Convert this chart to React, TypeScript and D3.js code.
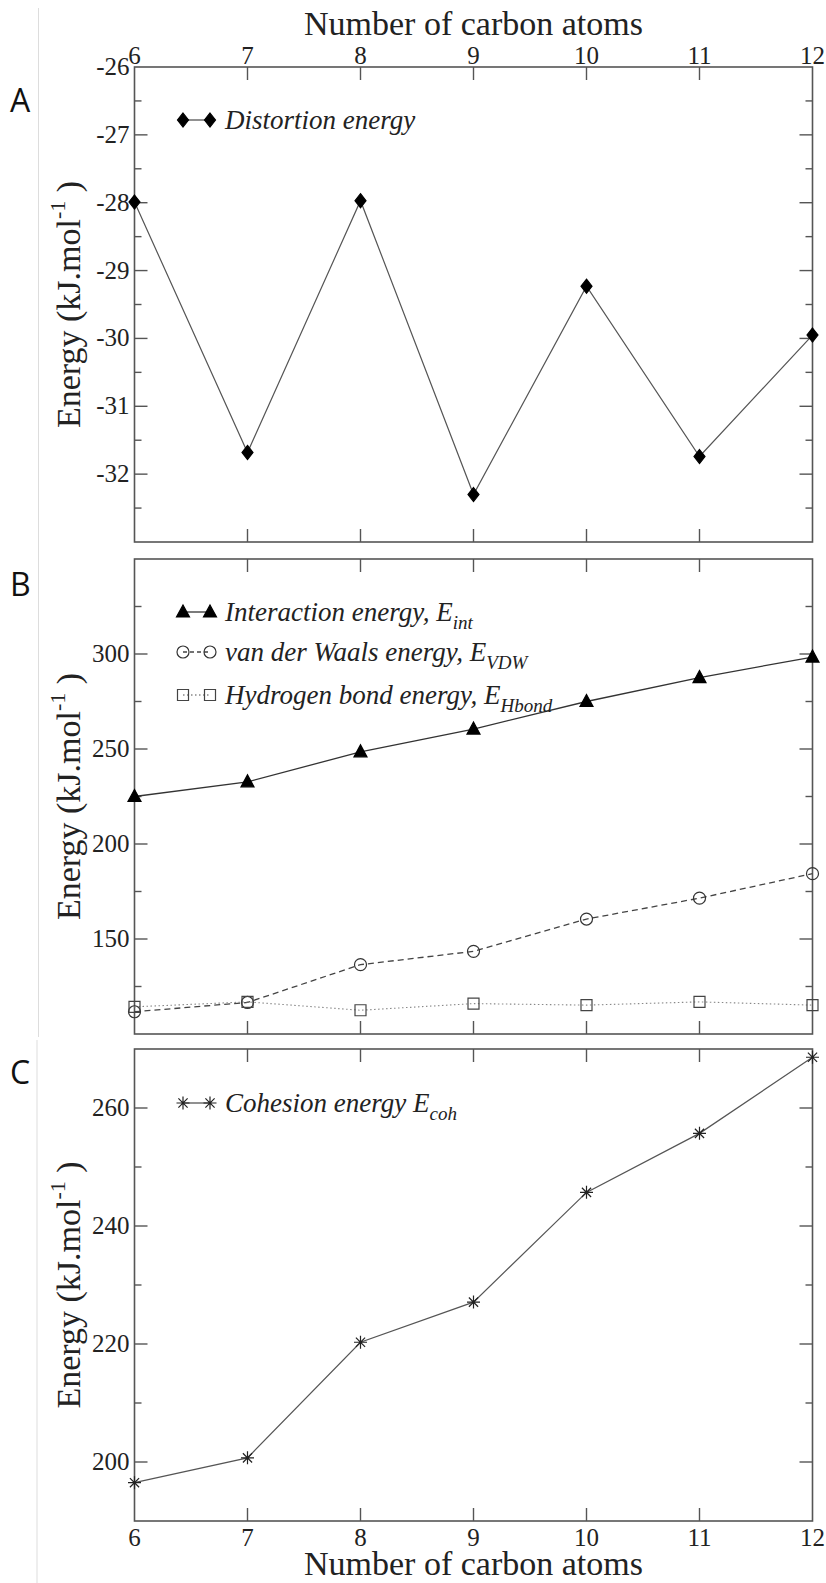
import { useEffect, useRef } from "react";
import * as d3 from "d3";

const WIDTH = 826;
const HEIGHT = 1583;

// x positions of the plot frame (shared by all three panels)
const X_LEFT = 134.5;
const X_RIGHT = 812.5;

const carbonAtoms = [6, 7, 8, 9, 10, 11, 12];

// panel A
const distortionEnergy = [-27.99, -31.68, -27.97, -32.3, -29.23, -31.74, -29.95];
const distortionTicks = [-32, -31, -30, -29, -28, -27, -26];

// panel B
const interactionEnergy = [225.0, 232.7, 248.5, 260.5, 275.0, 287.6, 298.4];
const vdwEnergy = [111.7, 116.6, 136.5, 143.5, 160.5, 171.5, 184.4];
const hbondEnergy = [114.3, 116.9, 112.5, 116.0, 115.2, 116.9, 115.2];
const energyTicksB = [150, 200, 250, 300];

// panel C
const cohesionEnergy = [196.5, 200.7, 220.3, 227.1, 245.7, 255.7, 268.6];
const energyTicksC = [200, 220, 240, 260];

const SERIF = "'Liberation Serif', 'Times New Roman', serif";
const SANS = "'Open Sans', 'Noto Sans', sans-serif";
const TEXT = "#222";
const FRAME = "#555";

type Panel = {
  letter: string;
  top: number;
  bottom: number;
  domain: [number, number];
  major: number;
  minor: number;
  labels: number[];
  letterY: number;
};

const panels: Panel[] = [
  { letter: "A", top: 67, bottom: 542, domain: [-33, -26], major: 1, minor: 0.5, labels: distortionTicks, letterY: 112 },
  { letter: "B", top: 559, bottom: 1034, domain: [100, 350], major: 50, minor: 25, labels: energyTicksB, letterY: 596 },
  { letter: "C", top: 1049, bottom: 1521, domain: [190, 270], major: 20, minor: 10, labels: energyTicksC, letterY: 1084 },
];

// marker shapes, centred on 0,0
const diamondPath = "M0,-7L5.5,0L0,7L-5.5,0Z";
const trianglePath = "M0,-7L6.5,5L-6.5,5Z";
const squarePath = "M-5.5,-5.5H5.5V5.5H-5.5Z";
const starPath = "M-6.5,0H6.5M0,-6.5V6.5M-4.6,-4.6L4.6,4.6M-4.6,4.6L4.6,-4.6";

function App() {
  const svgRef = useRef<SVGSVGElement>(null);

  useEffect(() => {
    const svg = d3.select(svgRef.current);
    svg.selectAll("*").remove();

    const xScale = d3.scaleLinear().domain([6, 12]).range([X_LEFT, X_RIGHT]);

    // faint crop line at the left of the composite figure
    svg.append("line").attr("x1", 38.5).attr("x2", 38.5).attr("y1", 8).attr("y2", 1037)
      .attr("stroke", "#ddd").attr("stroke-width", 1);
    svg.append("line").attr("x1", 37).attr("x2", 37).attr("y1", 1040).attr("y2", HEIGHT)
      .attr("stroke", "#ddd").attr("stroke-width", 1);

    const yScales = panels.map((p) =>
      d3.scaleLinear().domain(p.domain).range([p.bottom, p.top])
    );

    panels.forEach((p, i) => {
      const y = yScales[i];
      const g = svg.append("g");

      // frame
      g.append("rect")
        .attr("x", X_LEFT).attr("y", p.top)
        .attr("width", X_RIGHT - X_LEFT).attr("height", p.bottom - p.top)
        .attr("fill", "none").attr("stroke", FRAME).attr("stroke-width", 1.6);

      // x ticks, inward on top and bottom
      carbonAtoms.slice(1, -1).forEach((c) => {
        const x = xScale(c);
        g.append("line").attr("x1", x).attr("x2", x).attr("y1", p.top).attr("y2", p.top + 13)
          .attr("stroke", FRAME).attr("stroke-width", 1.4);
        g.append("line").attr("x1", x).attr("x2", x).attr("y1", p.bottom).attr("y2", p.bottom - 13)
          .attr("stroke", FRAME).attr("stroke-width", 1.4);
      });

      // y ticks, inward on left and right
      const [lo, hi] = p.domain;
      const steps = Math.round((hi - lo) / p.minor);
      for (let k = 1; k < steps; k++) {
        const v = lo + k * p.minor;
        const isMajor = Math.abs(v / p.major - Math.round(v / p.major)) < 1e-6;
        const len = isMajor ? 13 : 7;
        g.append("line").attr("x1", X_LEFT).attr("x2", X_LEFT + len).attr("y1", y(v)).attr("y2", y(v))
          .attr("stroke", FRAME).attr("stroke-width", 1.4);
        g.append("line").attr("x1", X_RIGHT).attr("x2", X_RIGHT - len).attr("y1", y(v)).attr("y2", y(v))
          .attr("stroke", FRAME).attr("stroke-width", 1.4);
      }

      // y tick labels
      g.selectAll("text.ytick")
        .data(p.labels)
        .join("text")
        .attr("class", "ytick")
        .attr("x", X_LEFT - 5)
        .attr("y", (d) => y(d) + 8)
        .attr("text-anchor", "end")
        .style("font-family", SERIF)
        .style("font-size", "25px")
        .attr("fill", TEXT)
        .text((d) => String(d));

      // y axis title
      const cy = (p.top + p.bottom) / 2;
      const title = g.append("text")
        .attr("transform", `translate(80,${cy}) rotate(-90)`)
        .attr("text-anchor", "middle")
        .style("font-family", SERIF)
        .style("font-size", "34px")
        .attr("fill", TEXT);
      title.append("tspan").text("Energy (kJ.mol");
      title.append("tspan").attr("dy", -15).style("font-size", "22px").text("-1");
      title.append("tspan").attr("dy", 15).text(" )");

      // panel letter
      g.append("text")
        .attr("x", 10).attr("y", p.letterY)
        .style("font-family", SANS)
        .style("font-size", "32px")
        .attr("fill", "#111")
        .text(p.letter);
    });

    // x tick labels: top of A and bottom of C
    const xLabels = svg.append("g");
    carbonAtoms.forEach((c) => {
      xLabels.append("text").attr("x", xScale(c)).attr("y", 64)
        .attr("text-anchor", "middle").style("font-family", SERIF).style("font-size", "25px")
        .attr("fill", TEXT).text(String(c));
      xLabels.append("text").attr("x", xScale(c)).attr("y", 1546)
        .attr("text-anchor", "middle").style("font-family", SERIF).style("font-size", "25px")
        .attr("fill", TEXT).text(String(c));
    });
    svg.append("text").attr("x", (X_LEFT + X_RIGHT) / 2).attr("y", 35)
      .attr("text-anchor", "middle").style("font-family", SERIF).style("font-size", "34px")
      .attr("fill", TEXT).text("Number of carbon atoms");
    svg.append("text").attr("x", (X_LEFT + X_RIGHT) / 2).attr("y", 1575)
      .attr("text-anchor", "middle").style("font-family", SERIF).style("font-size", "34px")
      .attr("fill", TEXT).text("Number of carbon atoms");

    const drawSeries = (
      values: number[],
      yScale: d3.ScaleLinear<number, number>,
      opts: { stroke: string; dash?: string; width: number; marker: string; fill: string; markerStroke: string }
    ) => {
      const line = d3.line<number>()
        .x((_, i) => xScale(carbonAtoms[i]))
        .y((d) => yScale(d));
      svg.append("path")
        .datum(values)
        .attr("d", line)
        .attr("fill", "none")
        .attr("stroke", opts.stroke)
        .attr("stroke-width", opts.width)
        .attr("stroke-dasharray", opts.dash ?? null);
      svg.append("g")
        .selectAll("path")
        .data(values)
        .join("path")
        .attr("d", opts.marker)
        .attr("transform", (d, i) => `translate(${xScale(carbonAtoms[i])},${yScale(d)})`)
        .attr("fill", opts.fill)
        .attr("stroke", opts.markerStroke)
        .attr("stroke-width", 1.2);
    };

    const circlePath = d3.symbol(d3.symbolCircle, Math.PI * 36)() as string;

    // panel A
    drawSeries(distortionEnergy, yScales[0], { stroke: "#555", width: 1.2, marker: diamondPath, fill: "#000", markerStroke: "#000" });
    // panel B
    drawSeries(interactionEnergy, yScales[1], { stroke: "#333", width: 1.3, marker: trianglePath, fill: "#000", markerStroke: "#000" });
    drawSeries(vdwEnergy, yScales[1], { stroke: "#444", width: 1.3, dash: "6,4", marker: circlePath, fill: "none", markerStroke: "#333" });
    drawSeries(hbondEnergy, yScales[1], { stroke: "#888", width: 1.1, dash: "1.5,2.5", marker: squarePath, fill: "none", markerStroke: "#444" });
    // panel C
    drawSeries(cohesionEnergy, yScales[2], { stroke: "#555", width: 1.2, marker: starPath, fill: "none", markerStroke: "#222" });

    // legends
    const legend = (
      y: number, marker: string, fill: string, stroke: string, lineStroke: string, dash: string | null,
      label: string, sub: string | null
    ) => {
      const g = svg.append("g");
      g.append("line").attr("x1", 183).attr("x2", 210).attr("y1", y).attr("y2", y)
        .attr("stroke", lineStroke).attr("stroke-width", 1.3).attr("stroke-dasharray", dash);
      [183, 210].forEach((x) => {
        g.append("path").attr("d", marker).attr("transform", `translate(${x},${y})`)
          .attr("fill", fill).attr("stroke", stroke).attr("stroke-width", 1.2);
      });
      const t = g.append("text").attr("x", 225).attr("y", y + 9)
        .style("font-family", SERIF).style("font-style", "italic").style("font-size", "27px").attr("fill", TEXT);
      t.append("tspan").text(label);
      if (sub) t.append("tspan").attr("dy", 8).style("font-size", "19px").text(sub);
    };

    legend(120, diamondPath, "#000", "#000", "#555", null, "Distortion energy", null);
    legend(612, trianglePath, "#000", "#000", "#333", null, "Interaction energy, E", "int");
    legend(652, circlePath, "none", "#333", "#444", "4,3", "van der Waals energy, E", "VDW");
    legend(695, squarePath, "none", "#444", "#888", "1.5,2.5", "Hydrogen bond energy, E", "Hbond");
    legend(1103, starPath, "none", "#222", "#555", null, "Cohesion energy E", "coh");
  }, []);

  return (
    <svg
      ref={svgRef}
      width={WIDTH}
      height={HEIGHT}
      style={{ position: "absolute", left: 0, top: 0, background: "#fff" }}
    />
  );
}

export default App;
